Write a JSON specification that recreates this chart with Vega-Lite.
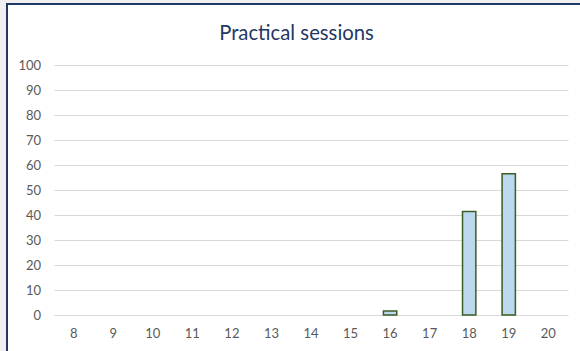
{
  "$schema": "https://vega.github.io/schema/vega-lite/v6.json",
  "width": 575,
  "height": 349,
  "autosize": {"type": "none"},
  "padding": {"left": 7, "top": 4, "right": -2, "bottom": -2},
  "background": "#f0f0f0",
  "title": {
    "text": "Practical sessions",
    "offset": -36,
    "baseline": "alphabetic",
    "dx": 2,
    "dy": 20,
    "font": "Lato",
    "fontSize": 20.3,
    "fontWeight": "normal",
    "color": "#1f3864"
  },
  "config": {
    "view": {"fill": "#ffffff", "stroke": "#1f3864", "strokeWidth": 2},
    "axis": {"labelFont": "Lato", "labelFontSize": 13, "labelColor": "#595959", "ticks": false, "domain": false, "titleColor": "#595959"}
  },
  "data": {
    "values": [
      {"session": 8, "value": 0},
      {"session": 9, "value": 0},
      {"session": 10, "value": 0},
      {"session": 11, "value": 0},
      {"session": 12, "value": 0},
      {"session": 13, "value": 0},
      {"session": 14, "value": 0},
      {"session": 15, "value": 0},
      {"session": 16, "value": 1.6},
      {"session": 17, "value": 0},
      {"session": 18, "value": 41.4},
      {"session": 19, "value": 56.5},
      {"session": 20, "value": 0}
    ]
  },
  "mark": {"type": "bar", "fill": "#bdd7ee", "stroke": "#3b5e22", "strokeWidth": 1.5},
  "encoding": {
    "x": {
      "field": "session",
      "type": "ordinal",
      "scale": {"range": [47, 561], "paddingInner": 0.663, "paddingOuter": 0.33},
      "axis": {"title": null, "labelAngle": 0, "grid": false, "offset": -22, "labelPadding": 2, "labelBaseline": "middle"}
    },
    "y": {
      "field": "value",
      "type": "quantitative",
      "scale": {"domain": [0, 100], "range": [311, 61], "nice": false},
      "axis": {"title": null, "values": [0, 10, 20, 30, 40, 50, 60, 70, 80, 90, 100], "grid": true, "gridColor": "#d9d9d9", "gridWidth": 1, "offset": -35.5, "labelPadding": 2}
    },
    "strokeOpacity": {"condition": {"test": "datum.value > 0", "value": 1}, "value": 0}
  }
}
